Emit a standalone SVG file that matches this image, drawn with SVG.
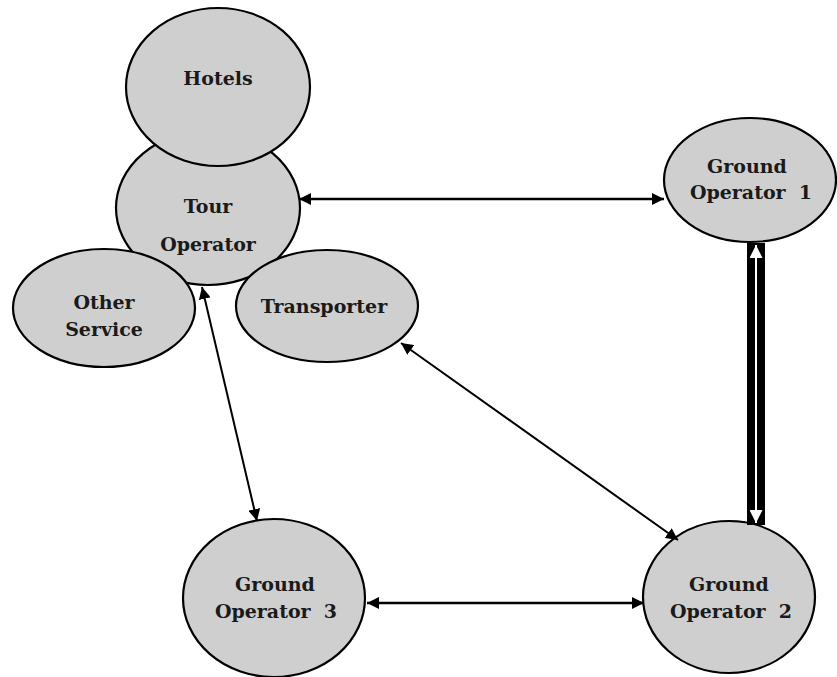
<svg xmlns="http://www.w3.org/2000/svg" width="837" height="677" viewBox="0 0 837 677">
<style>
.node{fill:#cfcfcf;stroke:#000;stroke-width:2.2}
.lbl{font-family:"DejaVu Serif","Liberation Serif",serif;font-weight:bold;font-size:19px;fill:#1a1a1a;text-anchor:middle}
.conn{stroke:#000;stroke-width:2;fill:none}
.conn.h{stroke-width:2.7}
</style>
<defs>
<marker id="ah" viewBox="0 0 10 10" refX="10" refY="5" markerWidth="12" markerHeight="12" orient="auto-start-reverse" markerUnits="userSpaceOnUse">
<path d="M0,0 L10,5 L0,10 z" fill="#000"/>
</marker>
<marker id="ahw" viewBox="0 0 10 10" refX="10" refY="5" markerWidth="13" markerHeight="13" orient="auto-start-reverse" markerUnits="userSpaceOnUse">
<path d="M0,0 L10,5 L0,10 z" fill="#fff"/>
</marker>
</defs>
<rect width="837" height="677" fill="#fff"/>
<g id="tour-operator">
<ellipse class="node" cx="208" cy="208" rx="92" ry="77"/>
<text class="lbl" x="208" y="213">Tour</text>
<text class="lbl" x="208" y="251">Operator</text>
</g>
<g id="hotels">
<ellipse class="node" cx="218" cy="87" rx="92" ry="79"/>
<text class="lbl" x="218" y="85">Hotels</text>
</g>
<g id="other-service">
<ellipse class="node" cx="104" cy="308" rx="91" ry="59"/>
<text class="lbl" x="104" y="309">Other</text>
<text class="lbl" x="104" y="336">Service</text>
</g>
<g id="transporter">
<ellipse class="node" cx="327" cy="306" rx="91" ry="56"/>
<text class="lbl" x="324" y="313">Transporter</text>
</g>
<g id="ground-operator-1">
<ellipse class="node" cx="750" cy="180" rx="86" ry="62"/>
<text class="lbl" x="747" y="173">Ground</text>
<text class="lbl" x="751" y="199" xml:space="preserve">Operator  1</text>
</g>
<g id="ground-operator-2">
<ellipse class="node" cx="729" cy="597" rx="86" ry="76"/>
<text class="lbl" x="729" y="591">Ground</text>
<text class="lbl" x="731" y="618" xml:space="preserve">Operator  2</text>
</g>
<g id="ground-operator-3">
<ellipse class="node" cx="274" cy="598" rx="91" ry="79"/>
<text class="lbl" x="275" y="591">Ground</text>
<text class="lbl" x="276" y="618" xml:space="preserve">Operator  3</text>
</g>
<g id="connectors">
<line class="conn h" x1="299" y1="199" x2="664" y2="199" marker-start="url(#ah)" marker-end="url(#ah)"/>
<line class="conn" x1="202" y1="287" x2="257" y2="521" marker-start="url(#ah)" marker-end="url(#ah)"/>
<line class="conn" x1="401" y1="343" x2="678" y2="540" marker-start="url(#ah)" marker-end="url(#ah)"/>
<line class="conn h" x1="367" y1="603" x2="644" y2="603" marker-start="url(#ah)" marker-end="url(#ah)"/>
<rect x="747" y="243" width="18" height="282" fill="#000"/>
<line x1="756" y1="245" x2="756" y2="523" stroke="#fff" stroke-width="2" marker-start="url(#ahw)" marker-end="url(#ahw)"/>
</g>
</svg>
